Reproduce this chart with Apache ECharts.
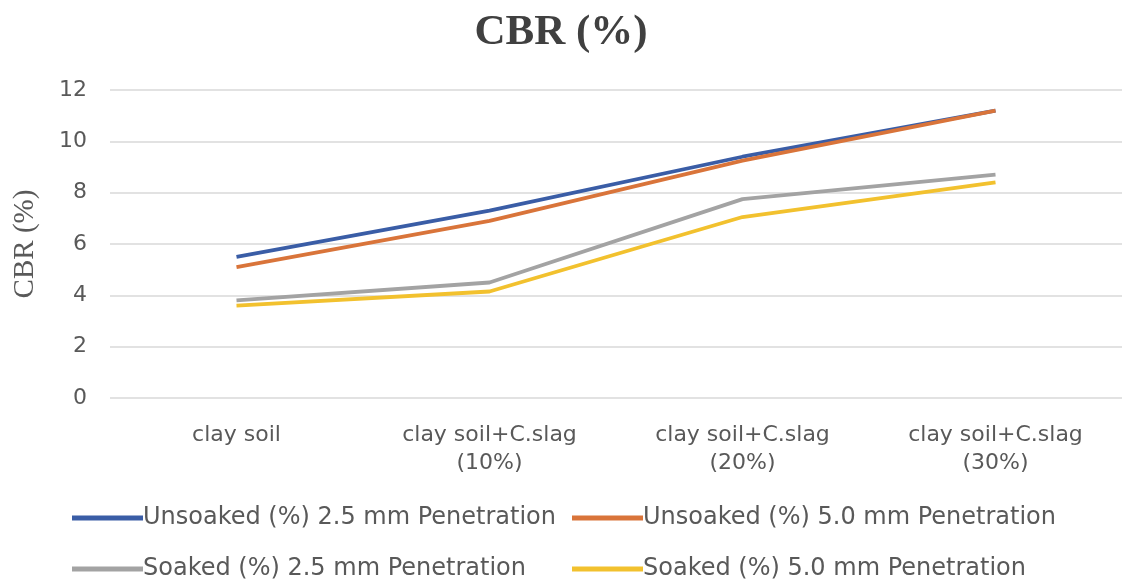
<!DOCTYPE html>
<html><head><meta charset="utf-8">
<script src="https://cdn.jsdelivr.net/npm/echarts@6/dist/echarts.min.js"></script>
<style>html,body{margin:0;padding:0;background:#fff}#c{width:1122px;height:581px}</style>
</head><body><div id="c"></div>
<script>
const categories = ["clay soil", "clay soil+C.slag\n(10%)", "clay soil+C.slag\n(20%)", "clay soil+C.slag\n(30%)"];
const unsoaked25 = [5.5, 7.3, 9.4, 11.2];
const unsoaked50 = [5.1, 6.9, 9.25, 11.2];
const soaked25 = [3.8, 4.5, 7.75, 8.7];
const soaked50 = [3.6, 4.15, 7.05, 8.4];
const yTicks = [0, 2, 4, 6, 8, 10, 12];
const seriesNames = ["Unsoaked (%) 2.5 mm Penetration", "Unsoaked (%) 5.0 mm Penetration", "Soaked (%) 2.5 mm Penetration", "Soaked (%) 5.0 mm Penetration"];
const colors = ["#3A5DA6", "#D9743A", "#A3A3A3", "#F2C12E"];

const chart = echarts.init(document.getElementById('c'), null, {renderer: 'canvas'});
const font = "'DejaVu Sans','Open Sans',sans-serif";
const serif = "'Liberation Serif','DejaVu Serif',serif";
const legendText = {color: '#595959', fontSize: 24, fontFamily: font, padding: [0,0,0,-5]};
const mk = (name, data, i) => ({
  name, type: 'line', data, symbol: 'none', smooth: false,
  lineStyle: {width: 3.8, color: colors[i]}, itemStyle: {color: colors[i]}
});
const leg = (i, left, top) => ({data: [seriesNames[i]], left, top, itemWidth: 71, itemHeight: 5,
  icon: 'rect', padding: 0, textStyle: legendText});
chart.setOption({
  animation: false,
  title: {text: 'CBR (%)', left: 'center', top: 6,
    textStyle: {fontFamily: serif, fontWeight: 'bold', fontSize: 43, color: '#404040'}},
  grid: {left: 110, top: 90, width: 1020, height: 308},
  xAxis: {type: 'category', data: categories, boundaryGap: true,
    axisLine: {show: false}, axisTick: {show: false},
    axisLabel: {color: '#595959', fontSize: 22, fontFamily: font, lineHeight: 28, margin: 23}},
  yAxis: {type: 'value', min: yTicks[0], max: yTicks[yTicks.length - 1], interval: yTicks[1] - yTicks[0],
    name: 'CBR (%)', nameLocation: 'middle', nameGap: 70,
    nameTextStyle: {fontFamily: serif, fontSize: 29, color: '#595959'},
    axisLine: {show: false}, axisTick: {show: false},
    axisLabel: {color: '#595959', fontSize: 22, fontFamily: font, margin: 23},
    splitLine: {lineStyle: {color: '#D9D9D9', width: 1.5}}},
  legend: [leg(0, 72, 506), leg(1, 572, 506), leg(2, 72, 557), leg(3, 572, 557)],
  series: [mk(seriesNames[0], unsoaked25, 0), mk(seriesNames[1], unsoaked50, 1),
           mk(seriesNames[2], soaked25, 2), mk(seriesNames[3], soaked50, 3)]
});
</script></body></html>
